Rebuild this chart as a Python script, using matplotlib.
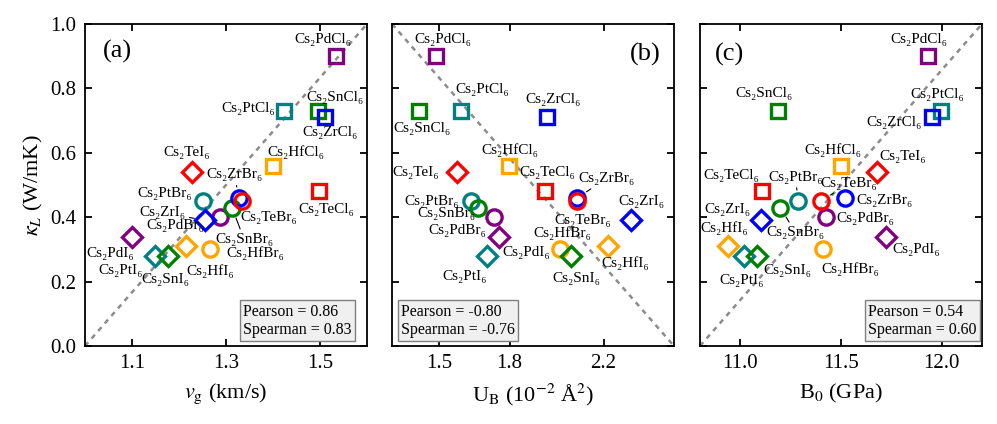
import matplotlib
matplotlib.use("Agg")
import matplotlib.pyplot as plt

plt.rcParams['font.family'] = ['Liberation Serif', 'DejaVu Serif']
plt.rcParams['mathtext.fontset'] = 'stix'

# ---------------- data ----------------
metals = ['Pd', 'Pt', 'Sn', 'Zr', 'Hf', 'Te']
halides = ['Cl', 'Br', 'I']
sub = str.maketrans('0123456789', '₀₁₂₃₄₅₆₇₈₉')
compounds = [f'Cs2{m}{h}6'.translate(sub) for h in halides for m in metals]

# kappa_L (W/mK), ordered Cl:(Pd,Pt,Sn,Zr,Hf,Te), Br:(...), I:(...)
kappa = [0.90, 0.73, 0.73, 0.71, 0.56, 0.48,
         0.40, 0.45, 0.43, 0.46, 0.30, 0.45,
         0.34, 0.28, 0.28, 0.39, 0.31, 0.54]
vg = [1.533, 1.424, 1.495, 1.511, 1.401, 1.497,
      1.288, 1.251, 1.313, 1.327, 1.265, 1.334,
      1.100, 1.149, 1.176, 1.256, 1.215, 1.228]
ub = [1.486, 1.595, 1.415, 1.959, 1.796, 1.949,
      1.732, 1.635, 1.667, 2.088, 2.017, 2.088,
      1.756, 1.706, 2.060, 2.319, 2.219, 1.576]
b0 = [11.930, 11.994, 11.185, 11.950, 11.500, 11.108,
      11.426, 11.288, 11.199, 11.520, 11.409, 11.401,
      11.724, 11.016, 11.083, 11.103, 10.937, 11.679]

pearson = ['0.86', '-0.80', '0.54']
spearman = ['0.83', '-0.76', '0.60']
panel_tags = ['(a)', '(b)', '(c)']
xlabels = [r'$v_\mathrm{g}$ (km/s)', r'U$_\mathrm{B}$ (10$^{-2}$ Å$^2$)', r'B$_0$ (GPa)']
xlims = [(1.0, 1.6), (1.3, 2.5), (10.8, 12.2)]
xticks = [[1.1, 1.3, 1.5], [1.5, 1.8, 2.2], [11.0, 11.5, 12.0]]
xticklabels = [['1.1', '1.3', '1.5'], ['1.5', '1.8', '2.2'], ['11.0', '11.5', '12.0']]

# ---------------- styles ----------------
metal_colors = {'Pd': '#800080', 'Pt': '#008080', 'Sn': '#008000',
                'Zr': '#0000FF', 'Hf': '#FFA500', 'Te': '#FF0000'}
halide_markers = {'Cl': 's', 'Br': 'o', 'I': 'D'}
marker_sizes = {'Cl': 10, 'Br': 11, 'I': 10}

# label offsets (pixels) per panel, order as compounds, and arrow flags
offs = [
    [(-13, 17), (-36, 2), (17, 13), (5, -15), (22, 14), (8, -18),
     (-45, -8), (-38, 8), (12, -32), (-4, 23), (46, -4), (27, -16),
     (-22, -17), (-34, -15), (-2, -24), (-43, 8), (24, -25), (-5, 20)],
    [(7, 17), (21, 21), (3, -18), (6, 18), (1, 16), (3, 19),
     (-36, -13), (-39, 0), (-32, -6), (29, 19), (2, 16), (6, -19),
     (27, -16), (-23, -21), (6, -23), (10, 19), (17, -17), (-41, 0)],
    [(-9, 17), (-3, 16), (-14, 17), (-38, -5), (-8, 16), (-31, 16),
     (39, -1), (-3, 24), (15, -25), (39, -3), (28, -20), (28, 18),
     (30, -13), (-2, -25), (30, -15), (-34, 11), (-3, 18), (26, 16)],
]
arrows = [
    {'Cs₂SnBr₆', 'Cs₂ZrBr₆', 'Cs₂ZrI₆'},
    {'Cs₂ZrBr₆'},
    {'Cs₂PtBr₆', 'Cs₂SnBr₆', 'Cs₂TeBr₆'},
]
stat_x = [0.562, 0.032, 0.597]
tag_pos = [(0.114, 0.915), (0.897, 0.905), (0.106, 0.905)]

W, H = 997, 424
fig = plt.figure(figsize=(W / 100, H / 100), dpi=100)
lefts = [85, 392, 700]
axes = [fig.add_axes([l / W, (H - 346) / H, 282 / W, 322 / H]) for l in lefts]

xdata = [vg, ub, b0]
for i, ax in enumerate(axes):
    xd = xdata[i]
    x0, x1 = xlims[i]
    ax.set_xlim(x0, x1)
    ax.set_ylim(0, 1.0)
    if i == 1:
        ax.plot([x0, x1], [1.0, 0.0], color='#8c8c8c', lw=1.8, ls=(0, (2, 2)), zorder=1)
    else:
        ax.plot([x0, x1], [0.0, 1.0], color='#8c8c8c', lw=1.8, ls=(0, (2, 2)), zorder=1)
    for j, name in enumerate(compounds):
        m = metals[j % 6]
        h = halides[j // 6]
        ax.plot(xd[j], kappa[j], marker=halide_markers[h], ms=marker_sizes[h],
                mfc='none', mec=metal_colors[m], mew=2.4, ls='none', zorder=3)
        dx, dy = offs[i][j]
        kw = {}
        if name in arrows[i]:
            kw['arrowprops'] = dict(arrowstyle='-', lw=0.8, color='k',
                                    shrinkA=1, shrinkB=8)
        ax.annotate(name, xy=(xd[j], kappa[j]), xytext=(dx, dy),
                    textcoords='offset pixels', ha='center', va='center',
                    fontsize=11, zorder=4, **kw)
    ax.set_xticks(xticks[i])
    ax.set_xticklabels(xticklabels[i])
    ax.set_yticks([0.0, 0.2, 0.4, 0.6, 0.8, 1.0])
    if i == 0:
        ax.set_yticklabels(['0.0', '0.2', '0.4', '0.6', '0.8', '1.0'])
        ax.set_ylabel(r'$\kappa_L$ (W/mK)', fontsize=16, labelpad=4)
    else:
        ax.set_yticklabels([])
    ax.tick_params(direction='in', top=True, right=True, length=5, width=1.3,
                   labelsize=15, pad=6)
    for s in ax.spines.values():
        s.set_linewidth(1.3)
    ax.set_xlabel(xlabels[i], fontsize=16, labelpad=6)
    ax.text(tag_pos[i][0], tag_pos[i][1], panel_tags[i], transform=ax.transAxes,
            fontsize=19, ha='center', va='center')
    ax.text(stat_x[i], 0.078, f'Pearson = {pearson[i]}\nSpearman = {spearman[i]}',
            transform=ax.transAxes, ha='left', va='center', fontsize=11.5,
            linespacing=1.2, zorder=5,
            bbox=dict(boxstyle='square,pad=0.2', fc='#f0f0f0', ec='#808080', lw=1.0))

fig.savefig('out.png', dpi=100)
